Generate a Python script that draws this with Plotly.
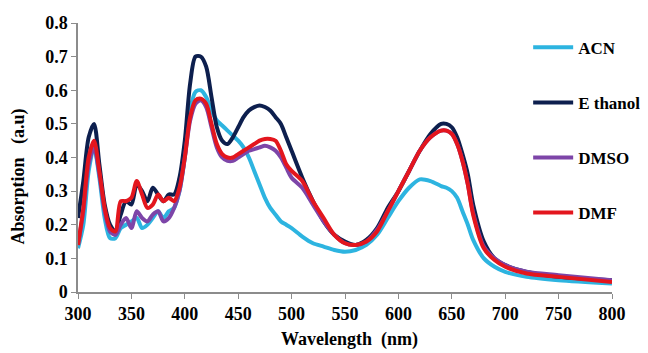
import plotly.graph_objects as go

wavelength = list(range(300, 505, 5)) + list(range(510, 650, 10)) + [645, 650, 655, 660, 665, 670, 680, 690, 700, 720, 750, 800]
wavelength = sorted(wavelength)

acn = [0.13, 0.20, 0.36, 0.43, 0.34, 0.22, 0.16, 0.16, 0.19, 0.20,
       0.21, 0.22, 0.19, 0.20, 0.22, 0.24, 0.22, 0.24, 0.25, 0.30,
       0.40, 0.54, 0.595, 0.60, 0.58, 0.54, 0.51, 0.495, 0.48, 0.465,
       0.45, 0.43, 0.40, 0.36, 0.32, 0.28, 0.25, 0.23, 0.21, 0.20,
       0.19,
       0.165, 0.145, 0.135, 0.125, 0.12, 0.125, 0.14, 0.17, 0.22, 0.27, 0.31, 0.335, 0.33, 0.315,
       0.31, 0.30, 0.28, 0.24, 0.20, 0.155, 0.10, 0.075, 0.06, 0.045, 0.035, 0.025]

ethanol = [0.22, 0.33, 0.46, 0.50, 0.38, 0.26, 0.20, 0.18, 0.23, 0.27,
           0.26, 0.32, 0.30, 0.27, 0.31, 0.29, 0.27, 0.29, 0.29, 0.34,
           0.45, 0.62, 0.70, 0.70, 0.67, 0.58, 0.49, 0.45, 0.44, 0.46,
           0.49, 0.52, 0.54, 0.55, 0.555, 0.55, 0.54, 0.52, 0.50, 0.46,
           0.42,
           0.34, 0.27, 0.21, 0.17, 0.15, 0.14, 0.155, 0.19, 0.25, 0.30, 0.36, 0.42, 0.47, 0.50,
           0.50, 0.49, 0.46, 0.41, 0.35, 0.26, 0.15, 0.10, 0.08, 0.06, 0.045, 0.035]

dmso = [0.14, 0.24, 0.38, 0.43, 0.35, 0.24, 0.18, 0.17, 0.20, 0.22,
        0.19, 0.24, 0.22, 0.21, 0.23, 0.24, 0.21, 0.22, 0.25, 0.30,
        0.40, 0.51, 0.56, 0.57, 0.55, 0.49, 0.43, 0.40, 0.39, 0.39,
        0.40, 0.41, 0.42, 0.425, 0.43, 0.435, 0.43, 0.42, 0.40, 0.37,
        0.34,
        0.31, 0.26, 0.21, 0.17, 0.145, 0.14, 0.15, 0.185, 0.24, 0.30, 0.36, 0.42, 0.46, 0.48,
        0.48, 0.47, 0.44, 0.39, 0.32, 0.235, 0.135, 0.10, 0.08, 0.06, 0.05, 0.035]

dmf = [0.14, 0.25, 0.40, 0.45, 0.36, 0.25, 0.19, 0.18, 0.27, 0.27,
       0.28, 0.33, 0.29, 0.25, 0.26, 0.29, 0.27, 0.28, 0.27, 0.31,
       0.40, 0.52, 0.57, 0.575, 0.56, 0.50, 0.44, 0.41, 0.40, 0.40,
       0.41, 0.42, 0.43, 0.44, 0.45, 0.455, 0.455, 0.45, 0.42, 0.38,
       0.36,
       0.33, 0.27, 0.22, 0.17, 0.145, 0.14, 0.15, 0.18, 0.24, 0.30, 0.36, 0.42, 0.46, 0.48,
       0.48, 0.47, 0.44, 0.39, 0.32, 0.23, 0.13, 0.095, 0.075, 0.055, 0.045, 0.03]

series_names = ["ACN", "Ethanol", "DMSO", "DMF"]
series_values = [acn, ethanol, dmso, dmf]
colors = ["#2db4e0", "#0d1f4e", "#7d45a8", "#e3161e"]
legend_labels = ["ACN", "E thanol", "DMSO", "DMF"]

x_ticks = list(range(300, 801, 50))
y_ticks = [0, 0.1, 0.2, 0.3, 0.4, 0.5, 0.6, 0.7, 0.8]

fig = go.Figure()
for i, (name, vals) in enumerate(zip(series_names, series_values)):
    fig.add_trace(go.Scatter(
        x=wavelength, y=vals, mode="lines", name=legend_labels[i],
        legendgroup=name,
        line=dict(color=colors[i], width=4, shape="spline", smoothing=0.8),
    ))

serif = "'Liberation Serif', 'Times New Roman', Times, serif"
fig.update_layout(
    width=640, height=345,
    margin=dict(l=70, r=36, t=15, b=61, autoexpand=False),
    plot_bgcolor="white", paper_bgcolor="white",
    font=dict(family=serif, color="black"),
    showlegend=True,
    legend=dict(x=0.843, y=0.975, xanchor="left", yanchor="top",
                bgcolor="rgba(0,0,0,0)", tracegroupgap=30,
                font=dict(family=serif, size=17, weight="bold", color="black"),
                traceorder="grouped", itemwidth=40),
    xaxis=dict(range=[300, 800], tickvals=x_ticks, showgrid=False, zeroline=False,
               automargin=False,
               showline=True, linecolor="#8c8c8c", linewidth=1.5,
               ticks="outside", ticklen=5, tickcolor="#8c8c8c",
               tickfont=dict(family=serif, size=18, weight="bold")),
    yaxis=dict(range=[0, 0.8], tickvals=y_ticks, showgrid=False, zeroline=False,
               automargin=False,
               showline=True, linecolor="#8c8c8c", linewidth=1.5,
               ticks="outside", ticklen=5, tickcolor="#8c8c8c",
               tickfont=dict(family=serif, size=18, weight="bold")),
    annotations=[
        dict(text="Wavelength&nbsp;&nbsp;(nm)", xref="paper", yref="paper",
             x=0.508, y=-0.178, xanchor="center", yanchor="middle", showarrow=False,
             font=dict(family=serif, size=18, weight="bold", color="black")),
        dict(text="Absorption&nbsp;&nbsp;&nbsp;(a.u)", xref="paper", yref="paper",
             x=-0.112, y=0.43, xanchor="center", yanchor="middle", showarrow=False,
             textangle=-90,
             font=dict(family=serif, size=18, weight="bold", color="black")),
    ],
)

fig.write_html("out.html")
